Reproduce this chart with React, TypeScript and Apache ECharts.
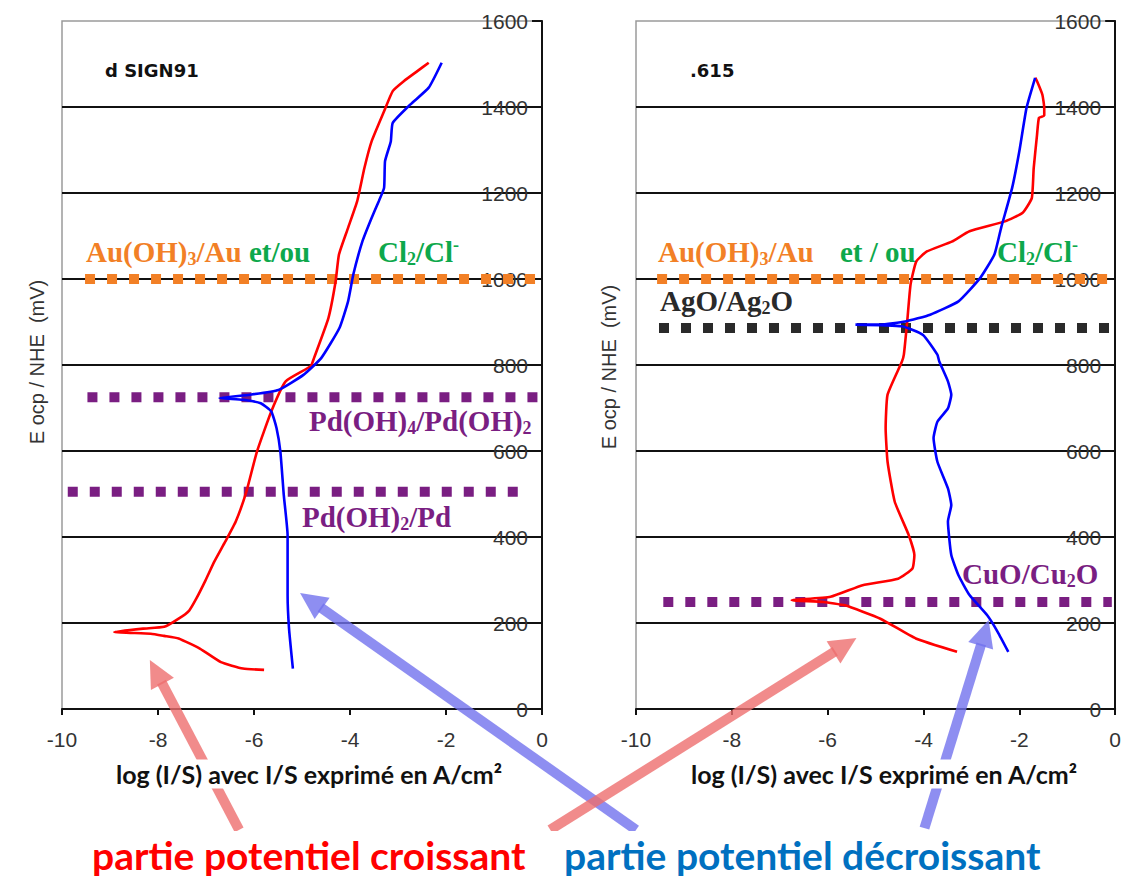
import React, { useEffect, useRef } from 'react';
import * as echarts from 'echarts';

// ---------- data (log(I/S) vs E ocp / NHE in mV) ----------
// Left panel: "d SIGN91"
const dsignCroissant: number[][] = [
  [-5.79, 91], [-6.23, 94], [-6.69, 109], [-7.12, 140], [-7.57, 164], [-7.87, 170], [-8.15, 175], [-8.91, 179],
  [-8.31, 187], [-7.87, 191], [-7.57, 210], [-7.35, 229], [-7.2, 257], [-7.01, 299], [-6.83, 342], [-6.6, 389],
  [-6.38, 436], [-6.16, 505], [-5.94, 598], [-5.64, 692], [-5.34, 762], [-4.82, 797], [-4.75, 816], [-4.45, 909],
  [-4.3, 994], [-4.23, 1057], [-4.04, 1119], [-3.85, 1181], [-3.7, 1258], [-3.55, 1320], [-3.29, 1390],
  [-3.11, 1437], [-2.88, 1460], [-2.59, 1484], [-2.36, 1503],
];
const dsignDecroissant: number[][] = [
  [-2.09, 1503], [-2.36, 1445], [-2.74, 1406], [-3.11, 1363], [-3.15, 1320], [-3.27, 1274],
  [-3.29, 1212], [-3.4, 1181], [-3.55, 1142], [-3.74, 1088], [-3.93, 1011], [-4.04, 948],
  [-4.22, 886], [-4.6, 816], [-4.97, 777], [-5.49, 742], [-6.08, 731], [-6.72, 723], [-6.23, 719],
  [-5.86, 711], [-5.64, 692], [-5.53, 653], [-5.45, 598], [-5.38, 498], [-5.3, 404], [-5.3, 265],
  [-5.27, 187], [-5.19, 94],
];
// Right panel: ".615"
const s615Croissant: number[][] = [
  [-3.3, 133], [-4.16, 164], [-4.9, 210], [-5.64, 241], [-6.09, 249], [-6.75, 253], [-5.94, 261],
  [-5.27, 288], [-4.53, 303], [-4.23, 327], [-4.19, 358], [-4.31, 405], [-4.6, 482], [-4.75, 575],
  [-4.79, 653], [-4.75, 731], [-4.45, 808], [-4.41, 824], [-4.34, 901], [-4.27, 987], [-4.15, 1041],
  [-3.93, 1064], [-3.41, 1087], [-3.04, 1111], [-2.3, 1134], [-1.93, 1154], [-1.74, 1188], [-1.7, 1258],
  [-1.63, 1336], [-1.59, 1375], [-1.48, 1380], [-1.48, 1398], [-1.52, 1429], [-1.63, 1460],
  [-1.67, 1468],
];
const s615Decroissant: number[][] = [
  [-1.67, 1468], [-1.85, 1398], [-2.0, 1297], [-2.15, 1212], [-2.38, 1119], [-2.52, 1057],
  [-2.82, 1002], [-3.27, 948], [-3.86, 917], [-4.38, 901], [-4.9, 894], [-5.42, 894], [-4.45, 890],
  [-4.01, 870], [-3.71, 824], [-3.67, 808], [-3.49, 762], [-3.42, 731], [-3.49, 699], [-3.71, 668],
  [-3.79, 630], [-3.71, 575], [-3.49, 513], [-3.42, 474], [-3.49, 436], [-3.42, 358], [-3.27, 311],
  [-3.04, 265], [-2.67, 218], [-2.45, 179], [-2.23, 133],
];

// Equilibrium potentials (mV) drawn as dotted reference lines, with their x extent
const leftRefPotentials = [1000, 725, 505];
const leftRefStart = [-9.52, -9.47, -9.88];
const leftRefEnd = [-0.06, 0, -0.44];
const rightRefPotentials = [1000, 886, 249];
const rightRefStart = [-9.56, -9.52, -9.43];
const rightRefEnd = [-0.1, -0.1, -0.07];

// Arrows [tailX, tailY, tipX, tipY] in data units of each panel
const leftRedArrow = [-6.31, -281, -8.17, 114];
const leftBlueArrow = [1.96, -281, -5.04, 270];
const rightRedArrow = [-11.79, -281, -5.4, 165];
const rightBlueArrow = [-3.98, -277, -2.64, 207];

const ORANGE = '#F28026';
const PURPLE = '#7A1E82';
const GREEN = '#0DA84C';
const DARK = '#2a2a2a';
const RED = '#FF0000';
const BLUE = '#0000FF';

const SERIF = '"Liberation Serif", "Times New Roman", serif';
const SANS = '"Liberation Sans", Arial, sans-serif';
const CAL = 'Lato, "Open Sans", sans-serif';

function richStyles(color: string) {
  return {
    m: { fontSize: 29, fontFamily: SERIF, fontWeight: 'bold', fill: color, lineHeight: 32 },
    s: { fontSize: 18, fontFamily: SERIF, fontWeight: 'bold', fill: color, lineHeight: 18, verticalAlign: 'bottom' },
    p: { fontSize: 18, fontFamily: SERIF, fontWeight: 'bold', fill: color, lineHeight: 18, verticalAlign: 'top' },
  };
}

function ann(x: number, y: number, text: string, color: string) {
  return {
    type: 'text', x, y, z: 40, silent: true,
    style: { text, rich: richStyles(color), fill: color, align: 'left', verticalAlign: 'middle', font: `bold 29px ${SERIF}` },
  };
}

export default function App() {
  const ref = useRef<HTMLDivElement>(null);
  useEffect(() => {
    const chart = echarts.init(ref.current!, null, { renderer: 'svg' });
    const gridDefs = [
      { left: 62, top: 21, width: 480, height: 688 },
      { left: 636, top: 21, width: 480, height: 688 },
    ];
    const axisColor = '#111';
    const labelColor = '#333';
    const xAxis = [0, 1].map((i) => ({
      type: 'value', gridIndex: i, min: -10, max: 0, interval: 2,
      axisLine: { show: true, onZero: false, lineStyle: { color: axisColor, width: 2 } },
      axisTick: { show: true, length: 6, lineStyle: { color: axisColor, width: 2 } },
      axisLabel: { color: labelColor, fontSize: 21, fontFamily: SANS, margin: 20 },
      splitLine: { show: false },
    }));
    const yAxis = [0, 1].map((i) => ({
      type: 'value', gridIndex: i, position: 'right', min: 0, max: 1600, interval: 200,
      axisLine: { show: true, onZero: false, lineStyle: { color: axisColor, width: 2 } },
      axisTick: { show: true, inside: true, length: 10, lineStyle: { color: axisColor, width: 2 } },
      axisLabel: { inside: true, color: labelColor, fontSize: 21, fontFamily: SANS, margin: 14, formatter: (v: number) => String(v) },
      splitLine: { show: true, showMinLine: false, showMaxLine: false, lineStyle: { color: axisColor, width: 2 } },
    }));

    const curve = (data: number[][], idx: number, color: string) => ({
      type: 'line', xAxisIndex: idx, yAxisIndex: idx, data, showSymbol: false, symbol: 'none',
      lineStyle: { color, width: 2.6 }, z: 5, silent: true, smooth: 0.15,
    });
    const refColorsLeft = [ORANGE, PURPLE, PURPLE];
    const refColorsRight = [ORANGE, DARK, PURPLE];
    const refSeries: any[] = [];
    leftRefPotentials.forEach((p, k) => {
      refSeries.push({
        type: 'line', xAxisIndex: 0, yAxisIndex: 0, symbol: 'none', silent: true, z: 3,
        data: [[leftRefStart[k], p], [leftRefEnd[k], p]],
        lineStyle: { color: refColorsLeft[k], width: 10, type: [10, 12], cap: 'butt' },
      });
    });
    rightRefPotentials.forEach((p, k) => {
      refSeries.push({
        type: 'line', xAxisIndex: 1, yAxisIndex: 1, symbol: 'none', silent: true, z: 3,
        data: [[rightRefStart[k], p], [rightRefEnd[k], p]],
        lineStyle: { color: refColorsRight[k], width: 10, type: [10, 12], cap: 'butt' },
      });
    });

    chart.setOption({
      animation: false,
      backgroundColor: '#ffffff',
      grid: gridDefs.map((g) => ({ ...g, show: true, borderColor: '#9a9a9a', borderWidth: 1.5, containLabel: false })),
      xAxis, yAxis,
      series: [
        ...refSeries,
        curve(dsignCroissant, 0, RED),
        curve(dsignDecroissant, 0, BLUE),
        curve(s615Croissant, 1, RED),
        curve(s615Decroissant, 1, BLUE),
      ],
    });

    const arrow = (a: number[], gridIndex: number, color: string) => {
      const t = chart.convertToPixel({ gridIndex } as any, [a[0], a[1]]) as number[];
      const h = chart.convertToPixel({ gridIndex } as any, [a[2], a[3]]) as number[];
      const dx = h[0] - t[0];
      const dy = h[1] - t[1];
      const len = Math.sqrt(dx * dx + dy * dy);
      const ux = dx / len, uy = dy / len;
      const headLen = 27, headHalf = 13;
      const bx = h[0] - ux * headLen, by = h[1] - uy * headLen;
      return [
        {
          type: 'line', z: 30, silent: true,
          shape: { x1: t[0], y1: t[1], x2: bx + ux * 2, y2: by + uy * 2 },
          style: { stroke: color, lineWidth: 10, opacity: 0.8 },
        },
        {
          type: 'polygon', z: 30, silent: true,
          shape: { points: [[h[0], h[1]], [bx - uy * headHalf, by + ux * headHalf], [bx + uy * headHalf, by - ux * headHalf]] },
          style: { fill: color, opacity: 0.8 },
        },
      ];
    };
    const arrowRed = '#EE6E6E';
    const arrowBlue = '#7272EE';

    const graphic: any[] = [
      ...arrow(leftRedArrow, 0, arrowRed),
      ...arrow(leftBlueArrow, 0, arrowBlue),
      ...arrow(rightRedArrow, 1, arrowRed),
      ...arrow(rightBlueArrow, 1, arrowBlue),
      { type: 'rect', z: 45, silent: true, shape: { x: 0, y: 831, width: 1124, height: 45 }, style: { fill: '#ffffff' } },
      // panel titles
      { type: 'text', x: 105, y: 70, z: 40, style: { text: 'd SIGN91', font: `bold 18px "DejaVu Sans", sans-serif`, fill: '#111', verticalAlign: 'middle' } },
      { type: 'text', x: 690, y: 70, z: 40, style: { text: '.615', font: `bold 18px "DejaVu Sans", sans-serif`, fill: '#111', verticalAlign: 'middle' } },
      // y axis names
      { type: 'text', x: 37, y: 362, rotation: Math.PI / 2, z: 40, style: { text: 'E ocp / NHE  (mV)', font: `20px ${SANS}`, fill: '#333', align: 'center', verticalAlign: 'middle' } },
      { type: 'text', x: 609, y: 367, rotation: Math.PI / 2, z: 40, style: { text: 'E ocp / NHE  (mV)', font: `20px ${SANS}`, fill: '#333', align: 'center', verticalAlign: 'middle' } },
      // x axis names
      { type: 'text', x: 309, y: 774, z: 50, style: { text: 'log (I/S) avec I/S exprimé en A/cm²', font: `bold 25px ${CAL}`, fill: '#111', align: 'center', verticalAlign: 'middle', backgroundColor: '#fff', padding: [2, 4, 2, 4] } },
      { type: 'text', x: 884, y: 774, z: 50, style: { text: 'log (I/S) avec I/S exprimé en A/cm²', font: `bold 25px ${CAL}`, fill: '#111', align: 'center', verticalAlign: 'middle', backgroundColor: '#fff', padding: [2, 4, 2, 4] } },
      // annotations left
      ann(86, 252, '{m|Au(OH)}{s|3}{m|/Au}', ORANGE),
      ann(249, 252, '{m|et/ou}', GREEN),
      ann(378, 252, '{m|Cl}{s|2}{m|/Cl}{p|-}', GREEN),
      ann(309, 421, '{m|Pd(OH)}{s|4}{m|/Pd(OH)}{s|2}', PURPLE),
      ann(302, 517, '{m|Pd(OH)}{s|2}{m|/Pd}', PURPLE),
      // annotations right
      ann(658, 252, '{m|Au(OH)}{s|3}{m|/Au}', ORANGE),
      ann(840, 252, '{m|et / ou}', GREEN),
      ann(997, 252, '{m|Cl}{s|2}{m|/Cl}{p|-}', GREEN),
      ann(660, 301, '{m|AgO/Ag}{s|2}{m|O}', DARK),
      ann(962, 574, '{m|CuO/Cu}{s|2}{m|O}', PURPLE),
      // bottom legend texts
      { type: 'text', x: 92, y: 874, z: 50, style: { text: 'partie potentiel croissant', font: `bold 39px ${CAL}`, fill: '#FF0000', verticalAlign: 'bottom' } },
      { type: 'text', x: 564, y: 874, z: 50, style: { text: 'partie potentiel décroissant', font: `bold 39px ${CAL}`, fill: '#0070C0', verticalAlign: 'bottom' } },
    ];
    chart.setOption({ graphic });

    return () => chart.dispose();
  }, []);
  return <div ref={ref} style={{ position: 'absolute', left: 0, top: 0, width: 1124, height: 876, background: '#fff' }} />;
}
